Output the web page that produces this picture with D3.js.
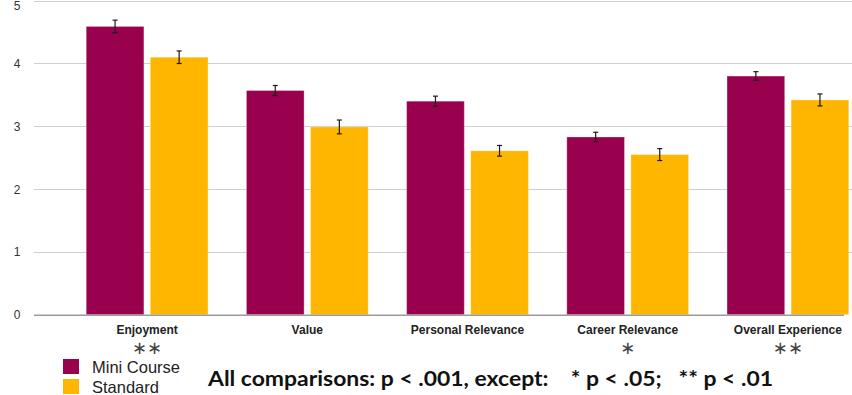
<!DOCTYPE html>
<html>
<head>
<meta charset="utf-8">
<script src="https://cdn.jsdelivr.net/npm/d3@7"></script>
<style>
  html, body { margin: 0; padding: 0; background: #fff; }
  svg { display: block; }
</style>
</head>
<body>
<svg id="chart" width="852" height="395"></svg>
<script>
// Survey ratings by course format, with standard-error bars
const categories = ["Enjoyment", "Value", "Personal Relevance", "Career Relevance", "Overall Experience"];
const seriesNames = ["Mini Course", "Standard"];
const miniValues = [4.59, 3.57, 3.40, 2.83, 3.80];
const standardValues = [4.10, 2.99, 2.61, 2.55, 3.42];
const miniErrors = [0.10, 0.08, 0.08, 0.075, 0.07];
const standardErrors = [0.10, 0.11, 0.085, 0.095, 0.095];
const significance = ["**", "", "", "*", "**"];
const yTicks = [0, 1, 2, 3, 4, 5];
const footnote = "All comparisons: p < .001, except:    * p < .05;   ** p < .01";

const colors = { "Mini Course": "#99004d", "Standard": "#ffb600" };

const svg = d3.select("#chart");

const y = d3.scaleLinear().domain([0, 5]).range([314.7, 0.7]);

const x0 = d3.scaleBand()
  .domain(categories)
  .range([67, 868])
  .paddingInner(0.24)
  .paddingOuter(0.12);

const x1 = d3.scaleBand()
  .domain(seriesNames)
  .range([0, x0.bandwidth()])
  .paddingInner(0.1);

const rows = categories.map((c, i) => ({
  category: c,
  bars: [
    { series: "Mini Course", value: miniValues[i], err: miniErrors[i] },
    { series: "Standard", value: standardValues[i], err: standardErrors[i] }
  ]
}));

// Horizontal gridlines
svg.append("g")
  .selectAll("line")
  .data(yTicks.filter(t => t > 0))
  .join("line")
  .attr("x1", 34).attr("x2", 852)
  .attr("y1", d => Math.round(y(d)) + 0.5)
  .attr("y2", d => Math.round(y(d)) + 0.5)
  .attr("stroke", "#cfcfcf")
  .attr("stroke-width", 1);

// Y tick labels (the top one is nudged down to stay inside the frame)
svg.append("g")
  .selectAll("text")
  .data(yTicks)
  .join("text")
  .attr("x", 17)
  .attr("y", d => Math.max(y(d) + 0.5, 6))
  .attr("text-anchor", "middle")
  .attr("dominant-baseline", "central")
  .attr("font-family", "Liberation Sans, Arial, sans-serif")
  .attr("font-size", 12)
  .attr("fill", "#333")
  .text(d => d);

// Bars
const groups = svg.append("g")
  .selectAll("g")
  .data(rows)
  .join("g")
  .attr("transform", d => `translate(${x0(d.category)},0)`);

groups.selectAll("rect")
  .data(d => d.bars)
  .join("rect")
  .attr("x", d => x1(d.series))
  .attr("y", d => y(d.value))
  .attr("width", x1.bandwidth())
  .attr("height", d => y(0) - y(d.value))
  .attr("fill", d => colors[d.series])
  .attr("stroke", "rgba(255,255,255,0.3)")
  .attr("stroke-width", 1);

// Error bars
const eb = groups.selectAll("g.err")
  .data(d => d.bars)
  .join("g")
  .attr("class", "err")
  .attr("transform", d => `translate(${x1(d.series) + x1.bandwidth() / 2},0)`)
  .attr("stroke", "#1a1a1a")
  .attr("stroke-width", 1.2);

eb.append("line")
  .attr("x1", 0).attr("x2", 0)
  .attr("y1", d => y(d.value + d.err))
  .attr("y2", d => y(d.value - d.err));
eb.append("line")
  .attr("x1", -2.5).attr("x2", 2.5)
  .attr("y1", d => y(d.value + d.err))
  .attr("y2", d => y(d.value + d.err));
eb.append("line")
  .attr("x1", -2.5).attr("x2", 2.5)
  .attr("y1", d => y(d.value - d.err))
  .attr("y2", d => y(d.value - d.err));

// Baseline axis
svg.append("line")
  .attr("x1", 34).attr("x2", 844)
  .attr("y1", y(0) + 0.5).attr("y2", y(0) + 0.5)
  .attr("stroke", "#9a9a9a")
  .attr("stroke-width", 1.5);

// Category labels
svg.append("g")
  .selectAll("text")
  .data(categories)
  .join("text")
  .attr("x", d => x0(d) + x0.bandwidth() / 2)
  .attr("y", 334)
  .attr("text-anchor", "middle")
  .attr("font-family", "Liberation Sans, Arial, sans-serif")
  .attr("font-weight", "bold")
  .attr("font-size", 12)
  .attr("fill", "#222")
  .text(d => d);

// Significance markers
svg.append("g")
  .selectAll("text")
  .data(categories.map((c, i) => ({ c, s: significance[i] })).filter(d => d.s))
  .join("text")
  .attr("x", d => x0(d.c) + x0.bandwidth() / 2)
  .attr("y", 354)
  .attr("text-anchor", "middle")
  .attr("font-family", "DejaVu Sans, sans-serif")
  .attr("font-size", 18)
  .attr("fill", "#444")
  .text(d => d.s.replace(/\*/g, "\u2217"));

// Legend
const legend = svg.append("g")
  .selectAll("g")
  .data(seriesNames)
  .join("g")
  .attr("transform", (d, i) => `translate(63,${359 + i * 20})`);
legend.append("rect")
  .attr("width", 16).attr("height", 15)
  .attr("fill", d => colors[d]);
legend.append("text")
  .attr("x", 29).attr("y", 14)
  .attr("font-family", "Liberation Sans, Arial, sans-serif")
  .attr("font-size", 16.5)
  .attr("fill", "#222")
  .text(d => d);

// Footnote
svg.append("text")
  .attr("x", 208)
  .attr("y", 386)
  .attr("font-family", "Lato, 'Open Sans', sans-serif")
  .attr("font-weight", "bold")
  .attr("font-size", 21)
  .attr("fill", "#111")
  .attr("textLength", 565)
  .attr("lengthAdjust", "spacingAndGlyphs")
  .style("white-space", "pre")
  .text(footnote);
</script>
</body>
</html>
